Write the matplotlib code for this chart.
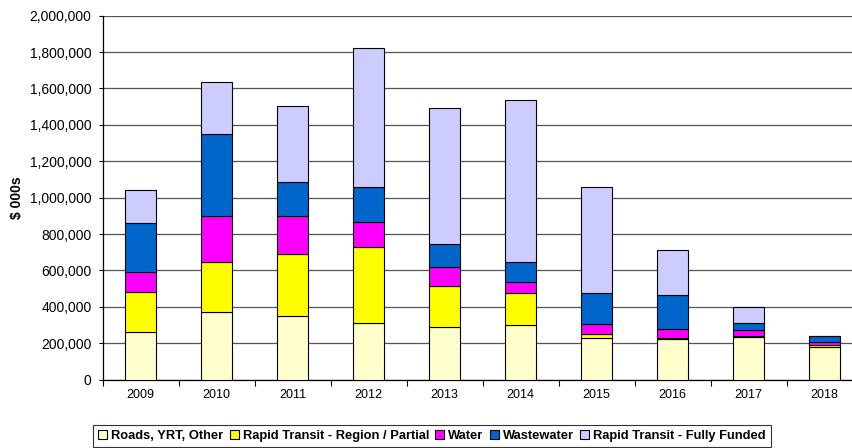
import matplotlib.pyplot as plt
import numpy as np
from matplotlib.ticker import FuncFormatter

plt.rcParams['font.family'] = ['Liberation Sans', 'DejaVu Sans']

# datos (miles de $)
anios = ['2009', '2010', '2011', '2012', '2013', '2014', '2015', '2016', '2017', '2018']
roads = [264, 374, 350, 313, 287, 300, 231, 225, 233, 178]
rt_region = [218, 274, 340, 414, 228, 176, 20, 5, 5, 10]
water = [110, 251, 209, 141, 104, 62, 57, 50, 37, 21]
wastewater = [271, 453, 189, 189, 126, 110, 168, 187, 38, 29]
rt_full = [177, 282, 416, 763, 748, 889, 581, 247, 84, 0]

series = [
    ('Roads, YRT, Other', roads, '#FFFFCC'),
    ('Rapid Transit - Region / Partial', rt_region, '#FFFF00'),
    ('Water', water, '#FF00FF'),
    ('Wastewater', wastewater, '#0066CC'),
    ('Rapid Transit - Fully Funded', rt_full, '#CCCCFF'),
]

fig = plt.figure(figsize=(8.52, 4.48), dpi=100)
ax = fig.add_axes([0.1205, 0.1525, 0.892, 0.8125])

x = np.arange(len(anios))
base = np.zeros(len(anios))
handles = []
for nombre, vals, color in series:
    v = np.array(vals) * 1000
    b = ax.bar(x, v, 0.41, bottom=base, color=color, edgecolor='black', linewidth=0.8, label=nombre, zorder=3)
    handles.append(b)
    base += v

ax.set_xlim(-0.5, len(anios) - 0.5)
ax.set_ylim(0, 2000000)
ax.set_yticks(np.arange(0, 2000001, 200000))
ax.yaxis.set_major_formatter(FuncFormatter(lambda v, p: f'{int(v):,}'))
ax.set_xticks(x)
ax.set_xticklabels(anios)
ax.set_xticks(np.arange(-0.5, len(anios), 1), minor=True)
ax.tick_params(axis='x', which='major', length=0, labelsize=9, pad=7)
ax.tick_params(axis='x', which='minor', length=4, width=0.8)
ax.tick_params(axis='y', length=3, width=0.8, labelsize=10, pad=5)
ax.yaxis.grid(True, color='#555555', linewidth=0.9, zorder=0)
ax.set_axisbelow(True)
for s in ['top', 'right']:
    ax.spines[s].set_visible(False)
ax.spines['left'].set_linewidth(0.9)
ax.spines['bottom'].set_linewidth(0.9)
ax.set_ylabel('$ 000s', fontsize=10, fontweight='bold', labelpad=4)

leg = fig.legend(handles=handles, loc='upper left', bbox_to_anchor=(93 / 852, 1 - 425 / 448),
                 ncol=5, frameon=True, fancybox=False, edgecolor='black',
                 prop={'weight': 'bold', 'size': 9.3}, handlelength=0.7, handleheight=0.7,
                 handletextpad=0.3, columnspacing=0.5, borderpad=0.4, borderaxespad=0.0)
leg.get_frame().set_linewidth(0.8)

fig.savefig('out.png', dpi=100)
